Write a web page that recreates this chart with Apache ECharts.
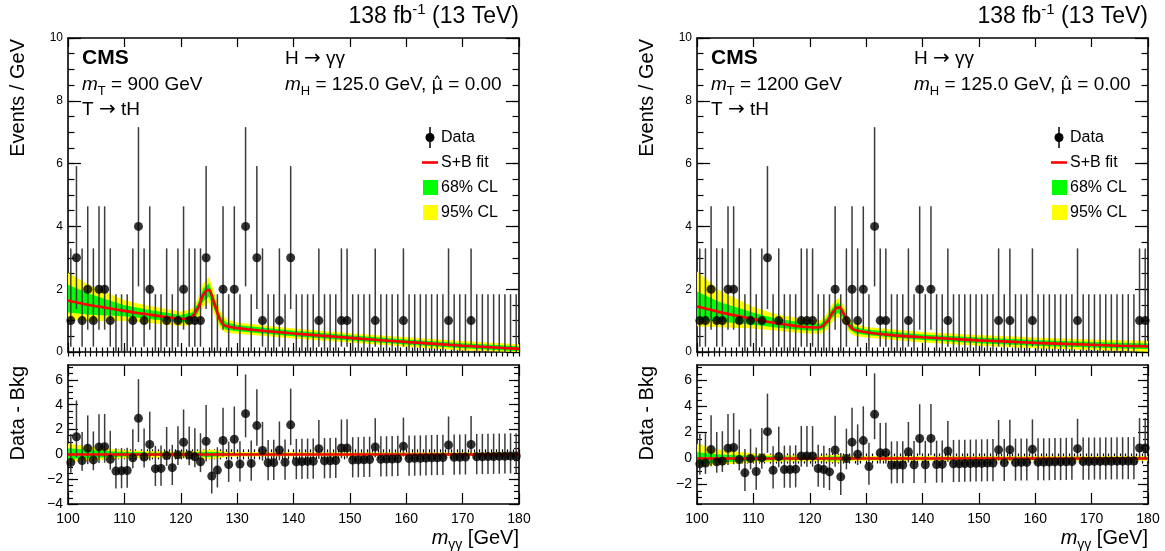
<!DOCTYPE html>
<html><head><meta charset="utf-8">
<script src="https://cdn.jsdelivr.net/npm/echarts@6/dist/echarts.min.js"></script>
<style>html,body{margin:0;padding:0;background:#fff}#c{width:1165px;height:551px}</style>
</head><body><div id="c"></div>
<script>
// ---------------- data ----------------
const binCenter = [100.5,101.5,102.5,103.5,104.5,105.5,106.5,107.5,108.5,109.5,
  110.5,111.5,112.5,113.5,114.5,115.5,116.5,117.5,118.5,119.5,
  120.5,121.5,122.5,123.5,124.5,125.5,126.5,127.5,128.5,129.5,
  130.5,131.5,132.5,133.5,134.5,135.5,136.5,137.5,138.5,139.5,
  140.5,141.5,142.5,143.5,144.5,145.5,146.5,147.5,148.5,149.5,
  150.5,151.5,152.5,153.5,154.5,155.5,156.5,157.5,158.5,159.5,
  160.5,161.5,162.5,163.5,164.5,165.5,166.5,167.5,168.5,169.5,
  170.5,171.5,172.5,173.5,174.5,175.5,176.5,177.5,178.5,179.5];

const leftCounts = [1,3,1,2,1,2,2,1,0,0, 0,1,4,1,2,0,0,1,0,1, 2,1,1,1,3,0,0,2,0,2,
  0,4,0,3,1,0,0,1,0,3, 0,0,0,0,1,0,0,0,1,1, 0,0,0,0,1,0,0,0,0,1,
  0,0,0,0,0,0,0,1,0,0, 0,1,0,0,0,0,0,0,0,0];
const rightCounts = [1,1,2,1,1,2,2,1,0,1, 0,1,3,0,1,0,0,0,1,1, 1,0,0,0,2,0,1,2,1,2,
  0,4,1,1,0,0,0,1,0,2, 0,2,0,0,1,0,0,0,0,0, 0,0,0,1,0,1,0,0,0,1,
  0,0,0,0,0,0,0,1,0,0, 0,0,0,0,0,0,0,0,1,1];

// Data - Bkg, per bin
const leftResid = [-0.65,1.42,-0.5,0.5,-0.45,0.6,0.62,-0.4,-1.35,-1.33, -1.3,-0.28,2.9,-0.22,0.8,-1.15,-1.13,-0.1,-1.07,-0.03,
  0.98,-0.05,-0.2,-0.6,1.05,-1.75,-1.27,1.12,-0.82,1.22, -0.78,3.28,-0.73,2.32,0.32,-0.68,-0.67,0.35,-0.64,2.38,
  -0.6,-0.59,-0.57,-0.56,0.46,-0.53,-0.52,-0.5,0.51,0.52, -0.46,-0.45,-0.43,-0.42,0.6,-0.39,-0.38,-0.37,-0.35,0.66,
  -0.33,-0.32,-0.31,-0.3,-0.28,-0.27,-0.26,0.75,-0.24,-0.23, -0.22,0.79,-0.2,-0.19,-0.18,-0.17,-0.16,-0.15,-0.14,-0.13];
const rightResid = [-0.41,-0.35,0.69,-0.26,-0.2,0.79,0.85,-0.08,-1.1,0.0, -1.0,0.05,2.07,-0.9,0.15,-0.85,-0.84,-0.82,0.2,0.2,
  0.2,-0.77,-0.85,-1.03,0.66,-1.41,0.0,1.26,0.33,1.38, -0.62,3.4,0.44,0.45,-0.52,-0.51,-0.5,0.52,-0.49,1.54,
  -0.48,1.55,-0.46,-0.45,0.58,-0.41,-0.4,-0.39,-0.38,-0.37, -0.36,-0.35,-0.34,0.67,-0.33,0.68,-0.31,-0.3,-0.3,0.71,
  -0.28,-0.28,-0.27,-0.26,-0.26,-0.25,-0.24,0.76,-0.23,-0.23, -0.22,-0.22,-0.21,-0.21,-0.2,-0.2,-0.19,-0.19,0.81,0.82];

// Poisson error sizes by observed count (down, up)
const errDown = [1.4, 0.83, 1.29, 1.63, 1.91];
const errUp   = [1.84, 2.30, 2.64, 2.92, 3.16];

// S+B fit curve
const fitX = [100,102,104,106,108,110,112,114,116,118,120,121,122,123,123.5,124,124.5,125,125.5,126,126.5,127,127.5,128,129,130,132,135,140,145,150,155,160,165,170,175,180];
const leftFit  = [1.64,1.56,1.49,1.43,1.37,1.31,1.25,1.2,1.15,1.1,1.06,1.06,1.13,1.38,1.6,1.82,1.95,1.98,1.8,1.52,1.25,1.02,0.89,0.83,0.79,0.76,0.72,0.67,0.59,0.52,0.45,0.38,0.32,0.26,0.2,0.15,0.1];
const rightFit = [1.45,1.36,1.27,1.19,1.12,1.05,0.98,0.92,0.87,0.82,0.79,0.78,0.8,0.95,1.08,1.24,1.36,1.42,1.39,1.22,1.02,0.85,0.75,0.7,0.66,0.63,0.58,0.53,0.47,0.42,0.37,0.33,0.29,0.26,0.23,0.2,0.18];

// uncertainty bands: offsets from the fit at these masses
const bandX = [100,104,110,114,120,122,123,124,125,126,127,128,130,140,150,160,170,180];
const leftUp95 = [0.88,0.62,0.34,0.28,0.22,0.25,0.3,0.37,0.4,0.35,0.28,0.22,0.18,0.16,0.15,0.15,0.15,0.15];
const leftUp68 = [0.5,0.35,0.18,0.15,0.12,0.13,0.16,0.2,0.21,0.18,0.15,0.12,0.1,0.09,0.08,0.08,0.08,0.08];
const leftDn68 = [0.38,0.3,0.17,0.14,0.12,0.13,0.16,0.2,0.21,0.18,0.15,0.12,0.1,0.09,0.08,0.08,0.08,0.08];
const leftDn95 = [0.6,0.5,0.32,0.27,0.23,0.25,0.3,0.37,0.4,0.35,0.28,0.22,0.18,0.16,0.15,0.15,0.15,0.15];
const rightUp95 = [1.12,0.68,0.38,0.28,0.22,0.22,0.25,0.28,0.3,0.27,0.22,0.19,0.17,0.17,0.17,0.17,0.17,0.17];
const rightUp68 = [0.48,0.32,0.2,0.15,0.11,0.11,0.13,0.15,0.16,0.14,0.12,0.1,0.09,0.09,0.09,0.09,0.09,0.09];
const rightDn68 = [0.42,0.3,0.18,0.14,0.11,0.11,0.13,0.15,0.16,0.14,0.12,0.1,0.09,0.09,0.09,0.09,0.09,0.09];
const rightDn95 = [0.63,0.48,0.3,0.24,0.21,0.21,0.25,0.28,0.3,0.27,0.22,0.19,0.17,0.17,0.17,0.17,0.17,0.17];

// tick labels
const xTickLabels = [100,110,120,130,140,150,160,170,180];
const yMainTicks = [0,2,4,6,8,10];
const yRatioTicksLeft = [-4,-2,0,2,4,6];
const yRatioTicksRight = [-2,0,2,4,6];

// ---------------- chart ----------------
const FONT = '"Liberation Sans", Arial, Helvetica, sans-serif';
const SYM = '"DejaVu Sans", sans-serif';
function seq(a, b, s) { const o=[]; for (let k=0; a+k*s <= b+1e-9; k++) o.push(Math.round((a+k*s)*1000)/1000); return o; }

const grids = [
  {left: 68, top: 38, width: 451, height: 314},
  {left: 68, top: 365, width: 451, height: 139},
  {left: 697, top: 38, width: 451, height: 314},
  {left: 697, top: 365, width: 451, height: 139}
];
const yRanges = [[0,10],[-4,7.2],[0,10],[-3.5,7.2]];
const yMajors = [yMainTicks, yRatioTicksLeft, yMainTicks, yRatioTicksRight];
const isRatio = [false,true,false,true];

const fmt = v => v < 0 ? '\u2212' + (-v) : String(v);
const labelStyle = {color:'#000', fontFamily: FONT, fontSize: 14, formatter: fmt};
const axLine = {show:true, onZero:false, lineStyle:{color:'#000', width:1.6}};
const tickLine = {color:'#000', width:1.2};

const xAxes = [], yAxes = [];
grids.forEach((g, gi) => {
  const ratio = isRatio[gi];
  const xMajLen = ratio ? 11 : 9, xMinLen = ratio ? 5 : 4.5;
  const yMajLen = ratio ? 10 : 13, yMinLen = ratio ? 5 : 6.5;
  ['bottom','top'].forEach(pos => {
    xAxes.push({type:'value', gridIndex:gi, position:pos, min:100, max:180, splitLine:{show:false},
      axisLine: axLine, axisTick:{show:true, inside:true, length:xMajLen, customValues:xTickLabels, lineStyle:tickLine},
      axisLabel: (pos==='bottom' && ratio) ? Object.assign({show:true, customValues:xTickLabels, margin:8}, labelStyle) : {show:false}});
    xAxes.push({type:'value', gridIndex:gi, position:pos, min:100, max:180, splitLine:{show:false},
      axisLine:{show:false}, axisTick:{show:true, inside:true, length:xMinLen, customValues:seq(100,180,1), lineStyle:tickLine},
      axisLabel:{show:false}});
  });
  const [ymin, ymax] = yRanges[gi];
  const minorStart = Math.ceil(ymin*2)/2;
  ['left','right'].forEach(pos => {
    yAxes.push({type:'value', gridIndex:gi, position:pos, min:ymin, max:ymax, splitLine:{show:false},
      axisLine: axLine, axisTick:{show:true, inside:true, length:yMajLen, customValues:yMajors[gi], lineStyle:tickLine},
      axisLabel: pos==='left' ? Object.assign({show:true, customValues:yMajors[gi], margin:5}, labelStyle, {fontSize: ratio?14:12}) : {show:false}});
    yAxes.push({type:'value', gridIndex:gi, position:pos, min:ymin, max:ymax, splitLine:{show:false},
      axisLine:{show:false}, axisTick:{show:true, inside:true, length:yMinLen, customValues:seq(minorStart, ymax, 0.5), lineStyle:tickLine},
      axisLabel:{show:false}});
  });
});

function clampY(p, cs) { return Math.max(cs.y, Math.min(cs.y + cs.height, p)); }

function bandSeries(gi, center, up95, up68, dn68, dn95) {
  const data = bandX.map((x, i) => [x, center(i), up95[i], up68[i], dn68[i], dn95[i]]);
  return {
    type:'custom', xAxisIndex: 4*gi, yAxisIndex: 4*gi, z: 1, silent: true,
    data: [0],
    renderItem: (params, api) => {
      const cs = params.coordSys;
      const poly = (upK, dnK) => {
        const top = data.map(d => { const p = api.coord([d[0], d[1] + d[upK]]); return [p[0], clampY(p[1], cs)]; });
        const bot = data.map(d => { const p = api.coord([d[0], d[1] - d[dnK]]); return [p[0], clampY(p[1], cs)]; }).reverse();
        return top.concat(bot);
      };
      return {type:'group', children:[
        {type:'polygon', shape:{points: poly(2, 5)}, style:{fill:'#ffff00', stroke:null}},
        {type:'polygon', shape:{points: poly(3, 4)}, style:{fill:'#00ff00', stroke:null}}
      ]};
    }
  };
}

function errSeries(gi, vals, counts) {
  const data = binCenter.map((x, i) => [x, vals[i] - errDown[counts[i]], vals[i] + errUp[counts[i]]]);
  return {
    type:'custom', xAxisIndex: 4*gi, yAxisIndex: 4*gi, z: 2, silent: true, data,
    renderItem: (params, api) => {
      const cs = params.coordSys;
      const a = api.coord([api.value(0), api.value(1)]);
      const b = api.coord([api.value(0), api.value(2)]);
      return {type:'line', shape:{x1:a[0], y1:clampY(a[1], cs), x2:b[0], y2:clampY(b[1], cs)},
        style:{stroke:'#3c3c3c', lineWidth:1.5}};
    }
  };
}

function dotSeries(gi, pts) {
  return {type:'scatter', xAxisIndex: 4*gi, yAxisIndex: 4*gi, z: 5, silent: true, symbol:'circle', symbolSize: 9,
    itemStyle:{color:'#000'}, data: pts};
}

const series = [];
[[0, leftCounts, leftResid, leftFit, leftUp95, leftUp68, leftDn68, leftDn95],
 [2, rightCounts, rightResid, rightFit, rightUp95, rightUp68, rightDn68, rightDn95]].forEach(P => {
  const [gm, counts, resid, fit, u95, u68, d68, d95] = P;
  const gr = gm + 1;
  const fitAt = i => fit[fitX.indexOf(bandX[i])];
  series.push(bandSeries(gm, fitAt, u95, u68, d68, d95));
  series.push(errSeries(gm, counts, counts));
  series.push({type:'line', xAxisIndex:4*gm, yAxisIndex:4*gm, z:3, silent:true, symbol:'none', smooth:0.25,
    lineStyle:{color:'#ff0000', width:2.6}, data: fitX.map((x, i) => [x, fit[i]])});
  series.push(dotSeries(gm, binCenter.map((x, i) => [x, counts[i]]).filter(d => d[1] > 0)));
  series.push(bandSeries(gr, i => 0, u95, u68, d68, d95));
  series.push({type:'line', xAxisIndex:4*gr, yAxisIndex:4*gr, z:3, silent:true, symbol:'none', data: [],
    markLine:{silent:true, symbol:['none','none'], label:{show:false}, data:[{yAxis:0}],
      lineStyle:{color:'#ff0000', width:2.6, type:'solid'}, z:3}});
  series.push(errSeries(gr, resid, counts));
  series.push(dotSeries(gr, binCenter.map((x, i) => [x, resid[i]])));
});

// ---------------- texts & legends ----------------
const rich = {
  n: {fontFamily: FONT, fontSize: 19, lineHeight: 26, color:'#000'},
  ar: {fontFamily: SYM, fontSize: 20, lineHeight: 26, color:'#000'},
  mu: {fontFamily: SYM, fontSize: 18, lineHeight: 26, color:'#000'},
  i: {fontFamily: FONT, fontSize: 19, lineHeight: 26, fontStyle:'italic', color:'#000'},
  sub: {fontFamily: FONT, fontSize: 13, verticalAlign:'bottom', lineHeight: 26, color:'#000'},
  h: {fontFamily: FONT, fontSize: 23, lineHeight: 30, color:'#000'},
  sup: {fontFamily: FONT, fontSize: 15, verticalAlign:'top', lineHeight: 30, color:'#000'},
  t: {fontFamily: FONT, fontSize: 20, lineHeight: 28, color:'#000'},
  ti: {fontFamily: FONT, fontSize: 20, lineHeight: 28, fontStyle:'italic', color:'#000'},
  tsub: {fontFamily: FONT, fontSize: 14, verticalAlign:'bottom', lineHeight: 28, color:'#000'}
};
function txt(x, y, text, align, extra) {
  return Object.assign({type:'text', x, y, silent:true, style:{text, rich, align: align||'left', verticalAlign:'middle', fill:'#000', fontFamily: FONT, fontSize: 19}}, extra||{});
}
const graphics = [];
[[0, '900'], [629, '1200']].forEach(([ox, mT]) => {
  graphics.push(txt(519+ox, 17, '{h|138 fb}{sup|-1}{h| (13 TeV)}', 'right'));
  graphics.push({type:'text', x:82+ox, y:58, silent:true, style:{text:'CMS', fontFamily:FONT, fontSize:21, fontWeight:'bold', fill:'#000', verticalAlign:'middle'}});
  graphics.push(txt(82+ox, 85, '{i|m}{sub|T}{n| = ' + mT + ' GeV}'));
  graphics.push(txt(82+ox, 110, '{n|T }{ar|\u2192}{n| tH}'));
  graphics.push(txt(285+ox, 59, '{n|H }{ar|\u2192}{n| \u03b3\u03b3}'));
  graphics.push(txt(285+ox, 85, '{i|m}{sub|H}{n| = 125.0 GeV, }{mu|\u03bc\u0302}{n| = 0.00}'));
  graphics.push(txt(18+ox, 39, '{t|Events / GeV}', 'right', {rotation: Math.PI/2}));
  graphics.push(txt(18+ox, 366, '{t|Data - Bkg}', 'right', {rotation: Math.PI/2}));
  graphics.push(txt(519+ox, 538, '{ti|m}{tsub|\u03b3\u03b3}{t| [GeV]}', 'right'));
  const lx = 430 + ox;
  graphics.push({type:'line', silent:true, shape:{x1:lx, y1:127, x2:lx, y2:148}, style:{stroke:'#000', lineWidth:1.5}});
  graphics.push({type:'circle', silent:true, shape:{cx:lx, cy:137.5, r:4.5}, style:{fill:'#000'}});
  graphics.push({type:'line', silent:true, shape:{x1:lx-8, y1:162.5, x2:lx+8, y2:162.5}, style:{stroke:'#ff0000', lineWidth:2.6}});
  graphics.push({type:'rect', silent:true, shape:{x:lx-7, y:180, width:15, height:15}, style:{fill:'#00ff00'}});
  graphics.push({type:'rect', silent:true, shape:{x:lx-7, y:205, width:15, height:15}, style:{fill:'#ffff00'}});
  const leg = [['Data',137.5],['S+B fit',162.5],['68% CL',187.5],['95% CL',212.5]];
  leg.forEach(([t, y]) => graphics.push({type:'text', x:lx+11, y, silent:true,
    style:{text:t, fontFamily:FONT, fontSize:16, fill:'#000', verticalAlign:'middle'}}));
});

const chart = echarts.init(document.getElementById('c'), null, {renderer:'canvas'});
chart.setOption({
  animation:false,
  backgroundColor:'#fff',
  grid: grids.map(g => Object.assign({containLabel:false}, g)),
  xAxis: xAxes,
  yAxis: yAxes,
  series,
  graphic: graphics
});
</script></body></html>
